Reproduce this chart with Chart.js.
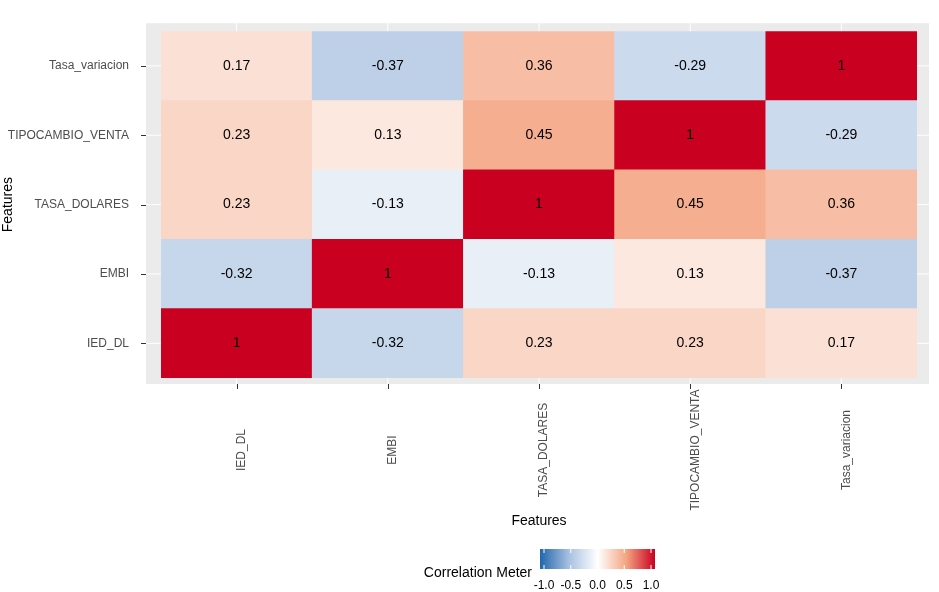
<!DOCTYPE html>
<html>
<head>
<meta charset="utf-8">
<script src="https://cdn.jsdelivr.net/npm/chart.js@4"></script>
<style>
  body { margin: 0; background: #fff; }
  #wrap { width: 939px; height: 592px; }
</style>
</head>
<body>
<div id="wrap"><canvas id="c"></canvas></div>
<script>
// features (same order on both axes)
const features = ["IED_DL", "EMBI", "TASA_DOLARES", "TIPOCAMBIO_VENTA", "Tasa_variacion"];
// correlation rows, one per y feature, columns follow features
const corIED = [1, -0.32, 0.23, 0.23, 0.17];
const corEMBI = [-0.32, 1, -0.13, 0.13, -0.37];
const corTasaDol = [0.23, -0.13, 1, 0.45, 0.36];
const corTipo = [0.23, 0.13, 0.45, 1, -0.29];
const corTasaVar = [0.17, -0.37, 0.36, -0.29, 1];
const rows = [corIED, corEMBI, corTasaDol, corTipo, corTasaVar];
const legendTicks = [-1, -0.5, 0, 0.5, 1];
const legendLabels = ["-1.0", "-0.5", "0.0", "0.5", "1.0"];

const FONT = "'Liberation Sans', Arial, sans-serif";

// diverging red / blue scale
const stops = [
  [-1, [33, 102, 172]], [-0.5, [167, 192, 224]], [0, [255, 255, 255]],
  [0.5, [244, 165, 130]], [1, [202, 0, 32]]
];
function colorFor(v) {
  for (let i = 0; i < stops.length - 1; i++) {
    const [a, ca] = stops[i], [b, cb] = stops[i + 1];
    if (v <= b) {
      const t = (v - a) / (b - a);
      const c = ca.map((x, k) => Math.round(x + (cb[k] - x) * t));
      return `rgb(${c[0]},${c[1]},${c[2]})`;
    }
  }
  return "rgb(202,0,32)";
}

const datasets = rows.map((row, yi) => ({
  label: features[yi],
  data: row.map(() => [yi - 0.5, yi + 0.5]),
  values: row,
  backgroundColor: row.map(colorFor),
  borderWidth: 0,
  barPercentage: 1,
  categoryPercentage: 1,
  grouped: false
}));

const decor = {
  id: "decor",
  beforeDatasetsDraw(chart) {
    const { ctx, chartArea: a, scales } = chart;
    ctx.save();
    ctx.fillStyle = "#EBEBEB";
    ctx.fillRect(a.left - 15, a.top - 8, a.right - a.left + 27, a.bottom - a.top + 14);
    ctx.strokeStyle = "#fff";
    ctx.lineWidth = 1;
    features.forEach((f, i) => {
      const x = scales.x.getPixelForValue(i);
      const y = scales.y.getPixelForValue(i);
      ctx.beginPath(); ctx.moveTo(x, a.top - 8); ctx.lineTo(x, a.bottom + 6); ctx.stroke();
      ctx.beginPath(); ctx.moveTo(a.left - 15, y); ctx.lineTo(a.right + 12, y); ctx.stroke();
    });
    ctx.restore();
  },
  afterDatasetsDraw(chart) {
    const { ctx, chartArea: a, scales } = chart;
    ctx.save();
    // cell values
    ctx.fillStyle = "#000";
    ctx.font = "14px " + FONT;
    ctx.textAlign = "center";
    ctx.textBaseline = "middle";
    rows.forEach((row, yi) => row.forEach((v, xi) => {
      ctx.fillText(String(v), scales.x.getPixelForValue(xi), scales.y.getPixelForValue(yi));
    }));
    // tick marks
    ctx.strokeStyle = "#333";
    ctx.lineWidth = 1;
    const panelL = a.left - 15, panelB = a.bottom + 6;
    features.forEach((f, i) => {
      const x = Math.round(scales.x.getPixelForValue(i)) + 0.5;
      ctx.beginPath(); ctx.moveTo(x, panelB); ctx.lineTo(x, panelB + 5); ctx.stroke();
      const y = Math.round(scales.y.getPixelForValue(i)) + 0.5;
      ctx.beginPath(); ctx.moveTo(panelL - 5, y); ctx.lineTo(panelL, y); ctx.stroke();
    });
    // x labels, rotated and centred
    ctx.fillStyle = "#4D4D4D";
    ctx.font = "12px " + FONT;
    features.forEach((f, i) => {
      ctx.save();
      ctx.translate(scales.x.getPixelForValue(i) + 5, 450);
      ctx.rotate(-Math.PI / 2);
      ctx.fillText(f, 0, 0);
      ctx.restore();
    });
    ctx.fillStyle = "#000";
    ctx.font = "14px " + FONT;
    ctx.fillText("Features", 539, 521);
    // legend
    const lx0 = 540, lx1 = 655, ly = 549, lh = 20;
    const g = ctx.createLinearGradient(lx0, 0, lx1, 0);
    stops.forEach(([v, c]) => g.addColorStop((v + 1) / 2, `rgb(${c[0]},${c[1]},${c[2]})`));
    ctx.fillStyle = g;
    ctx.fillRect(lx0, ly, lx1 - lx0, lh);
    ctx.strokeStyle = "#fff";
    ctx.fillStyle = "#000";
    ctx.font = "12px " + FONT;
    legendTicks.forEach((t, i) => {
      const x = lx0 + 4 + (t + 1) / 2 * (lx1 - lx0 - 8);
      ctx.beginPath(); ctx.moveTo(x, ly); ctx.lineTo(x, ly + 4); ctx.moveTo(x, ly + lh - 4); ctx.lineTo(x, ly + lh); ctx.stroke();
      ctx.fillText(legendLabels[i], x, ly + lh + 17);
    });
    ctx.font = "14px " + FONT;
    ctx.textAlign = "right";
    ctx.fillText("Correlation Meter", 532, 573);
    ctx.restore();
  }
};

new Chart(document.getElementById("c"), {
  type: "bar",
  data: { labels: features, datasets },
  options: {
    responsive: true,
    maintainAspectRatio: false,
    animation: false,
    layout: { padding: { top: 13, right: 22, left: 0, bottom: 0 } },
    plugins: { legend: { display: false }, tooltip: { enabled: false } },
    scales: {
      x: {
        offset: true,
        grid: { display: false },
        border: { display: false },
        ticks: { display: false },
        afterFit: s => { s.height = 214; }
      },
      y: {
        min: -0.5, max: 4.5,
        grid: { display: false },
        border: { display: false },
        afterBuildTicks: s => { s.ticks = features.map((f, i) => ({ value: i })); },
        afterFit: s => { s.width = 161; },
        ticks: {
          padding: 24,
          color: "#4D4D4D",
          font: { size: 12, family: FONT },
          callback: v => features[v]
        },
        title: { display: true, text: "Features", color: "#000", font: { size: 14, family: FONT }, padding: 0 }
      }
    }
  },
  plugins: [decor]
});
</script>
</body>
</html>
